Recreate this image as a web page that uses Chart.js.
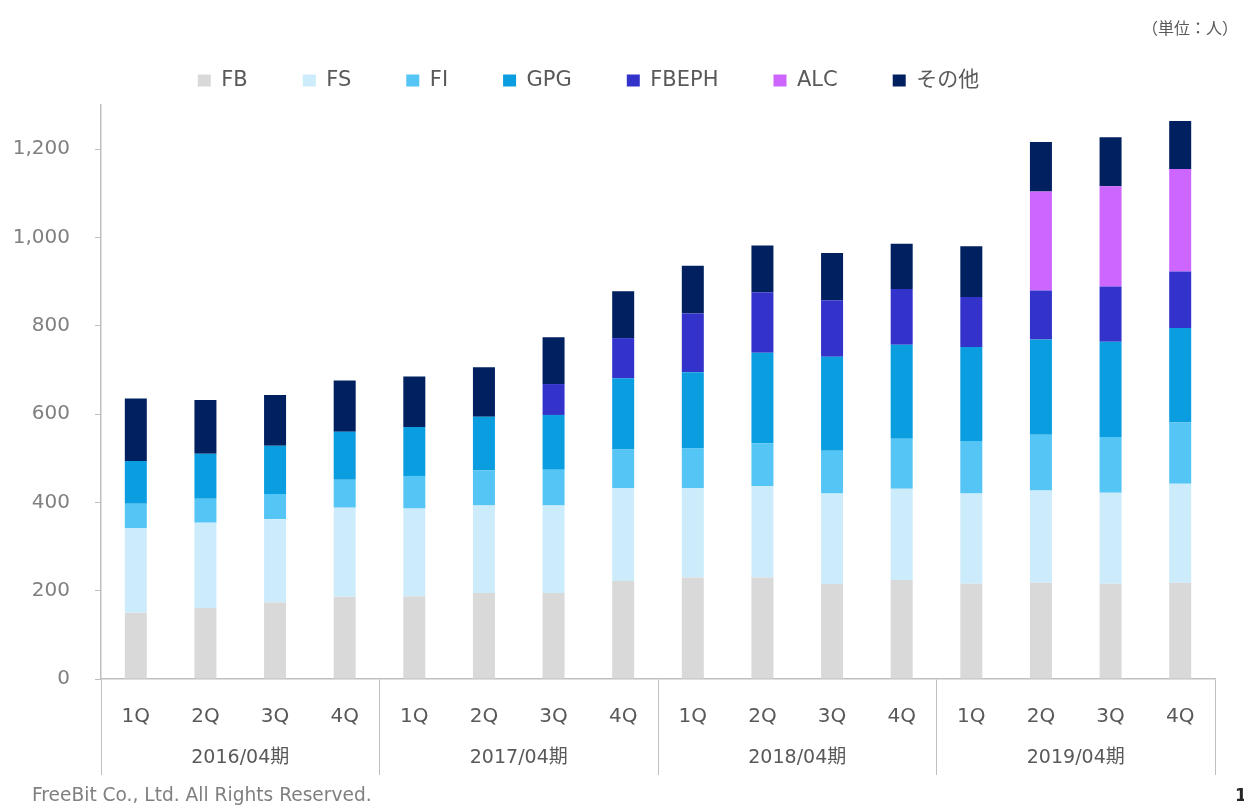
<!DOCTYPE html>
<html lang="ja">
<head>
<meta charset="utf-8">
<title>従業員数推移</title>
<script src="https://cdn.jsdelivr.net/npm/chart.js@4/dist/chart.umd.min.js"></script>
<style>
  html, body { margin: 0; padding: 0; background: #fff; }
  canvas { display: block; }
</style>
</head>
<body>
<canvas id="chartPessoal" width="1244" height="806"></canvas>
<script>
const FONT = "'DejaVu Sans', 'Noto Sans CJK JP', sans-serif";

// categorias
const trimestres = ["1Q", "2Q", "3Q", "4Q", "1Q", "2Q", "3Q", "4Q", "1Q", "2Q", "3Q", "4Q", "1Q", "2Q", "3Q", "4Q"];
const periodos = ["2016/04期", "2017/04期", "2018/04期", "2019/04期"];

// valores por empresa (人)
const fb    = [150, 161, 173, 186, 187, 195, 195, 222, 230, 230, 215, 224, 216, 218, 216, 218];
const fs    = [192, 193, 189, 202, 199, 198, 198, 210, 202, 207, 205, 207, 204, 209, 206, 224];
const fi    = [55, 54, 57, 63, 74, 79, 81, 88, 91, 97, 97, 113, 119, 126, 126, 139];
const gpg   = [97, 102, 109, 109, 111, 122, 124, 161, 172, 205, 213, 213, 213, 216, 216, 214];
const fbeph = [0, 0, 0, 0, 0, 0, 70, 91, 133, 137, 128, 126, 113, 111, 125, 128];
const alc   = [0, 0, 0, 0, 0, 0, 0, 0, 0, 0, 0, 0, 0, 224, 227, 232];
const outros = [141, 122, 115, 116, 114, 112, 106, 106, 108, 106, 107, 103, 115, 112, 111, 109];

// eixo Y
const yMax = 1300;
const yStep = 200;
const yUltimoTick = 1200;

const series = [
  { label: "FB", data: fb, color: "#d9d9d9" },
  { label: "FS", data: fs, color: "#ccecfc" },
  { label: "FI", data: fi, color: "#55c5f5" },
  { label: "GPG", data: gpg, color: "#0a9ee0" },
  { label: "FBEPH", data: fbeph, color: "#3333cc" },
  { label: "ALC", data: alc, color: "#cc66ff" },
  { label: "その他", data: outros, color: "#002060" }
];

const cinzaEixo = "#bfbfbf";

// textos fixos da página + ajuste da legenda
const extras = {
  id: "extras",
  afterLayout(chart) {
    const lg = chart.legend;
    lg.left -= 30; lg.right -= 30;
    lg.top -= 4; lg.bottom -= 4;
  },
  afterDraw(chart) {
    const ctx = chart.ctx;
    ctx.save();
    ctx.textBaseline = "middle";
    ctx.fillStyle = "#595959";
    ctx.font = "16px 'Noto Sans CJK JP', sans-serif";
    ctx.textAlign = "right";
    ctx.fillText("（単位：人）", 1238, 28);
    ctx.fillStyle = "#808080";
    ctx.font = "18.6px " + FONT;
    ctx.textAlign = "left";
    ctx.fillText("FreeBit Co., Ltd. All Rights Reserved.", 32, 796);
    ctx.fillStyle = "#262626";
    ctx.font = "bold 17px " + FONT;
    ctx.fillText("1", 1235, 797);
    ctx.restore();
  }
};

new Chart(document.getElementById("chartPessoal"), {
  type: "bar",
  data: {
    labels: trimestres,
    datasets: series.map(s => ({
      label: s.label,
      data: s.data,
      backgroundColor: s.color,
      borderWidth: 0,
      barPercentage: 0.316,
      categoryPercentage: 1
    }))
  },
  options: {
    responsive: false,
    animation: false,
    devicePixelRatio: 1,
    locale: "en-US",
    layout: { padding: { top: 19, right: 7, bottom: 107, left: 0 } },
    plugins: {
      tooltip: { enabled: false },
      legend: {
        position: "top",
        labels: {
          boxWidth: 13,
          boxHeight: 12,
          padding: 55,
          color: "#595959",
          font: { family: FONT, size: 21 }
        }
      }
    },
    scales: {
      // trimestres; as marcas longas separam os períodos
      x: {
        stacked: true,
        weight: 0,
        offset: true,
        border: { display: true, color: cinzaEixo, width: 1.5 },
        grid: {
          offset: true,
          drawOnChartArea: false,
          tickLength: 96,
          tickWidth: 1,
          tickColor: c => (c.index === undefined || c.index % 4 === 0) ? cinzaEixo : "rgba(0,0,0,0)"
        },
        ticks: {
          mirror: true,
          padding: -38,
          color: "#595959",
          maxRotation: 0,
          autoSkip: false,
          font: { family: FONT, size: 20, lineHeight: "1px" }
        }
      },
      // períodos
      x2: {
        type: "category",
        labels: periodos,
        position: "bottom",
        weight: 1,
        offset: true,
        border: { display: false },
        grid: {
          offset: true,
          drawOnChartArea: false,
          tickLength: 120,
          tickColor: "rgba(0,0,0,0)"
        },
        ticks: {
          mirror: true,
          padding: -60,
          color: "#595959",
          maxRotation: 0,
          font: { family: FONT, size: 19, lineHeight: "1px" }
        }
      },
      y: {
        stacked: true,
        min: 0,
        max: yMax,
        afterBuildTicks: s => { s.ticks = s.ticks.filter(t => t.value <= yUltimoTick); },
        afterFit: s => { s.width = 101; },
        border: { display: true, color: cinzaEixo, width: 1.5 },
        grid: {
          drawOnChartArea: false,
          tickLength: 6,
          tickColor: cinzaEixo
        },
        ticks: {
          stepSize: yStep,
          padding: 25,
          color: "#808080",
          font: { family: FONT, size: 20 }
        }
      },
      y2: {
        type: "linear",
        position: "right",
        afterFit: s => { s.width = 22; },
        border: { display: false },
        grid: { display: false },
        ticks: { display: false }
      }
    }
  },
  plugins: [extras]
});
</script>
</body>
</html>
